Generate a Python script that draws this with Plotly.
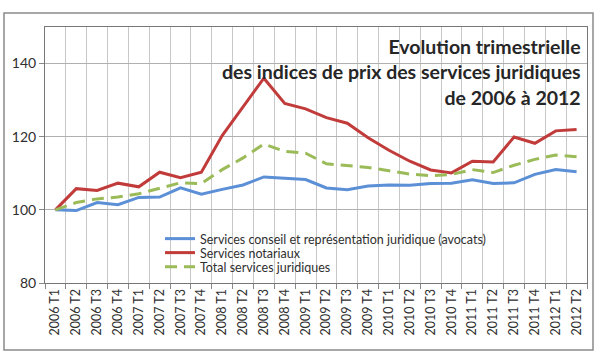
import plotly.graph_objects as go

quarters = ["2006 T1", "2006 T2", "2006 T3", "2006 T4",
            "2007 T1", "2007 T2", "2007 T3", "2007 T4",
            "2008 T1", "2008 T2", "2008 T3", "2008 T4",
            "2009 T1", "2009 T2", "2009 T3", "2009 T4",
            "2010 T1", "2010 T2", "2010 T3", "2010 T4",
            "2011 T1", "2011 T2", "2011 T3", "2011 T4",
            "2012 T1", "2012 T2"]

avocats = [100.0, 99.8, 102.0, 101.4, 103.4, 103.5, 106.0, 104.3,
           105.6, 106.8, 109.0, 108.7, 108.3, 106.0, 105.5, 106.5,
           106.8, 106.7, 107.2, 107.3, 108.2, 107.2, 107.4, 109.7,
           111.0, 110.4]

notariaux = [100.0, 105.8, 105.3, 107.3, 106.3, 110.3, 108.8, 110.3,
             120.3, 128.3, 136.0, 129.1, 127.6, 125.2, 123.7, 119.7,
             116.3, 113.3, 110.9, 110.1, 113.3, 113.1, 119.9, 118.2,
             121.6, 122.0]

total = [100.0, 102.0, 103.0, 103.5, 104.4, 105.8, 107.4, 107.2,
         111.0, 114.2, 118.0, 116.0, 115.5, 112.6, 112.0, 111.6,
         110.7, 109.8, 109.3, 109.7, 111.0, 110.2, 112.2, 113.8,
         115.0, 114.5]

names = ["Services conseil et représentation juridique (avocats)",
         "Services notariaux",
         "Total services juridiques"]

title_lines = ["Evolution trimestrielle",
               "des indices de prix des services juridiques",
               "de 2006 à 2012"]

W, H = 597, 355
L, R, T, B = 45, 10, 27, 72
pw, ph = W - L - R, H - T - B

def px(x):
    return (x - L) / pw

def py(y):
    return (H - B - y) / ph

fig = go.Figure()
fig.add_trace(go.Scatter(x=quarters, y=avocats, name=names[0], mode="lines",
                         line=dict(color="#5b8fd6", width=3), legend="legend"))
fig.add_trace(go.Scatter(x=quarters, y=notariaux, name=names[1], mode="lines",
                         line=dict(color="#c23b3b", width=3), legend="legend2"))
fig.add_trace(go.Scatter(x=quarters, y=total, name=names[2], mode="lines",
                         line=dict(color="#9bbb59", width=3, dash="12px,7px"),
                         legend="legend3"))

leg_font = dict(family="Lato, Liberation Sans, sans-serif", size=12.5, color="#303030")
def leg(y):
    return dict(x=px(160), y=py(y), xanchor="left", yanchor="middle",
                bgcolor="rgba(0,0,0,0)", borderwidth=0, font=leg_font,
                itemwidth=30, tracegroupgap=0)

title_font = dict(family="Lato, sans-serif", size=19.5, color="#262626", weight="bold")
annotations = [dict(text="<br>".join(title_lines), xref="paper", yref="paper",
                    x=px(583), y=py(33), xanchor="right", yanchor="top",
                    align="right", showarrow=False, font=title_font)]

fig.update_layout(
    width=W, height=H,
    margin=dict(l=L, r=R, t=T, b=B, pad=0, autoexpand=False),
    paper_bgcolor="white", plot_bgcolor="white",
    showlegend=True,
    legend=leg(239), legend2=leg(253), legend3=leg(267),
    font=dict(family="Lato, Liberation Sans, sans-serif", color="#303030"),
    xaxis=dict(type="category", tickangle=-90, tickson="boundaries",
               automargin=False,
               showgrid=True, gridcolor="#c8c8c8", gridwidth=1,
               ticks="outside", ticklen=5, tickcolor="#888888",
               showline=True, linecolor="#777777", linewidth=1, mirror=True,
               tickfont=dict(size=12.5, color="#303030"), range=[-0.5, 25.5]),
    yaxis=dict(range=[80, 150], tickvals=[80, 100, 120, 140], showgrid=True,
               automargin=False,
               gridcolor="#b0b0b0", gridwidth=1, ticks="outside", ticklen=5,
               tickcolor="#888888", showline=True, linecolor="#777777",
               linewidth=1, mirror=True, zeroline=False,
               tickfont=dict(size=14, color="#303030")),
    annotations=annotations,
    shapes=[dict(type="rect", xref="paper", yref="paper",
                 x0=px(4), x1=px(593), y0=py(350), y1=py(13),
                 line=dict(color="#8a8a8a", width=1.5), layer="below")],
)

fig.write_html("out.html", config={"displayModeBar": False},
               post_script="document.body.style.margin='0';document.body.style.padding='0';")
